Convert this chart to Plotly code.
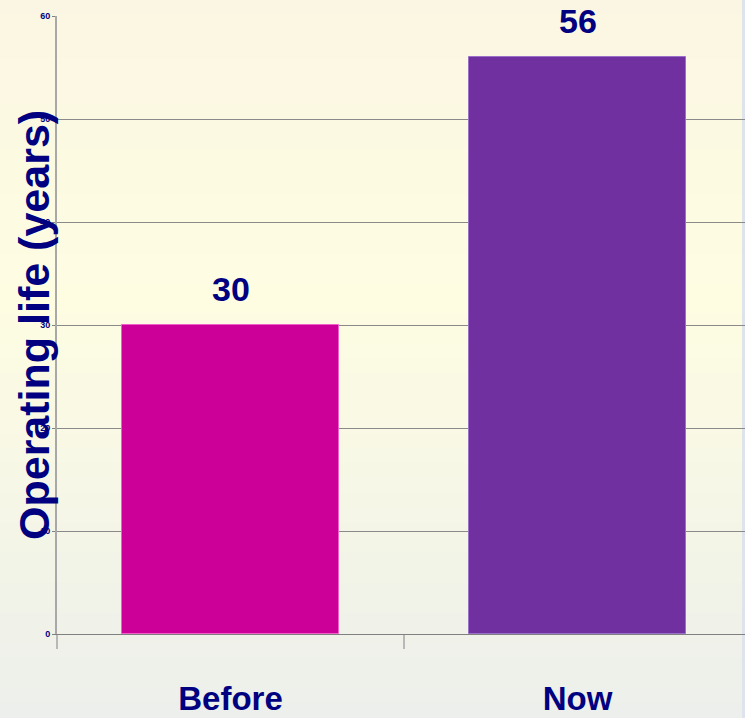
import plotly.graph_objects as go

categories = ["Before", "Now"]
values = [30, 56]
bar_colors = ["#cc0099", "#7030a0"]
edge_colors = ["#f060c8", "#9a70c8"]
y_ticks = [0, 10, 20, 30, 40, 50, 60]

W, H = 745, 718
L, T, B = 57, 16, 84
plot_w = W - L
plot_h = H - T - B

FONT = "Liberation Sans, Arial, sans-serif"

fig = go.Figure()
fig.add_trace(go.Bar(
    x=categories, y=values, width=0.628,
    marker=dict(color=bar_colors, line=dict(color=edge_colors, width=1)),
    hoverinfo="skip",
))

# background gradient
def lerp(c1, c2, t):
    return tuple(round(a + (b - a) * t) for a, b in zip(c1, c2))

stops = [(0, (251, 246, 227)), (300, (254, 253, 226)), (718, (236, 239, 235))]
shapes = []
n = 48
for i in range(n):
    p0 = H * i / n
    p1 = H * (i + 1) / n
    pm = (p0 + p1) / 2
    for (a, ca), (b, cb) in zip(stops[:-1], stops[1:]):
        if a <= pm <= b:
            col = lerp(ca, cb, (pm - a) / (b - a))
            break
    shapes.append(dict(
        type="rect", xref="paper", yref="paper", layer="below",
        x0=-L / plot_w, x1=1.01,
        y0=(H - B - p1) / plot_h, y1=(H - B - p0) / plot_h + 0.001,
        fillcolor="rgb(%d,%d,%d)" % col, line=dict(width=0),
    ))
shapes.append(dict(type="rect", xref="paper", yref="paper", layer="below",
                   x0=(W - 3 - L) / plot_w, x1=1.01,
                   y0=-B / plot_h, y1=(H - B) / plot_h,
                   fillcolor="#dfe4ec", line=dict(width=0)))

annotations = []
for c, v in zip(categories, values):
    annotations.append(dict(
        x=c, y=v, xref="x", yref="y", text=str(v), showarrow=False,
        yanchor="middle", yshift=36,
        font=dict(family=FONT, size=34, color="#000080", weight="bold"),
    ))
annotations.append(dict(
    x=0, y=0.5, xref="paper", yref="paper", xshift=-23, xanchor="center", yanchor="middle",
    text="Operating life (years)", textangle=-90, showarrow=False,
    font=dict(family=FONT, size=43, color="#000080", weight="bold"),
))

fig.update_layout(
    width=W, height=H,
    margin=dict(l=L, r=0, t=T, b=B, autoexpand=False),
    paper_bgcolor="#f8f7e8", plot_bgcolor="rgba(0,0,0,0)",
    showlegend=False, shapes=shapes, annotations=annotations,
    bargap=0,
)
fig.update_xaxes(
    range=[-0.5, -0.5 + plot_w / 347], type="category",
    showgrid=False, showline=True, linecolor="#808080", linewidth=1,
    ticks="outside", tickson="boundaries", ticklen=14, tickcolor="#b8b8b8", tickwidth=2,
    ticklabelstandoff=35,
    tickfont=dict(family=FONT, size=33, color="#000080", weight="bold"),
)
fig.update_yaxes(
    range=[0, 60], tickvals=y_ticks, showgrid=True, gridcolor="#8a8a8a", gridwidth=1,
    zeroline=False, showline=True, linecolor="#a8a8a8", linewidth=2,
    ticks="outside", ticklen=3, tickcolor="#808080",
    tickfont=dict(family=FONT, size=9, color="#000080", weight="bold"),
)

fig.write_html("out.html")
